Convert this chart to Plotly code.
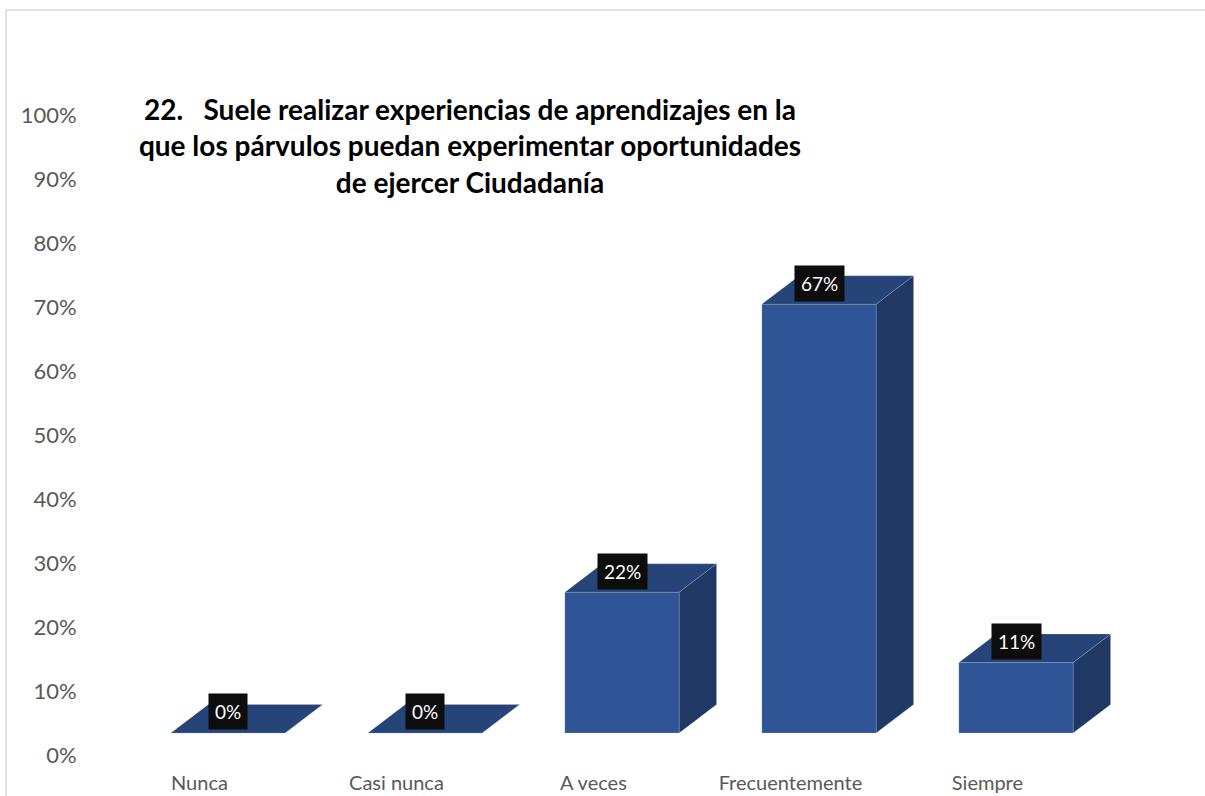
import plotly.graph_objects as go

# data
categories = ["Nunca", "Casi nunca", "A veces", "Frecuentemente", "Siempre"]
values = [0, 0, 22, 67, 11]
labels = ["0%", "0%", "22%", "67%", "11%"]
y_ticks = list(range(0, 101, 10))
y_ticktext = [f"{t}%" for t in y_ticks]

title_lines = [
    "22.\u00a0\u00a0 Suele realizar experiencias de aprendizajes en la",
    "que los párvulos puedan experimentar oportunidades",
    "de ejercer Ciudadanía",
]

# fake 3D geometry (data units)
BASE = 3.44      # front-face floor sits a bit above the 0% tick
HALF_W = 0.29    # half bar width
DX = 0.19        # depth offset in x
DY = 4.45        # depth offset in y
LABEL_DY = 3.3   # data label centre relative to front top

FRONT = "#2F5597"
TOP = "#264478"
SIDE = "#1F3864"


def faces(i, v):
    x0, x1 = i - HALF_W, i + HALF_W
    y0, y1 = BASE, BASE + v
    front = ([x0, x1, x1, x0, x0], [y0, y0, y1, y1, y0])
    top = ([x0, x1, x1 + DX, x0 + DX, x0], [y1, y1, y1 + DY, y1 + DY, y1])
    side = ([x1, x1 + DX, x1 + DX, x1, x1], [y0, y0 + DY, y1 + DY, y1, y0])
    return front, top, side


fig = go.Figure()

polys = {"side": ([], []), "front": ([], []), "top": ([], [])}
for i, v in enumerate(values):
    f, t, s = faces(i, v)
    for key, (xs, ys) in zip(["front", "top", "side"], [f, t, s]):
        polys[key][0].extend(xs + [None])
        polys[key][1].extend(ys + [None])

for key, col in [("side", SIDE), ("front", FRONT), ("top", TOP)]:
    fig.add_trace(go.Scatter(
        x=polys[key][0], y=polys[key][1],
        mode="lines", fill="toself", fillcolor=col,
        line=dict(width=0.6, color="rgba(200,210,230,0.35)"),
        hoverinfo="skip", showlegend=False,
    ))

# data labels
for i, (v, lab) in enumerate(zip(values, labels)):
    fig.add_annotation(
        x=i, y=BASE + v + LABEL_DY, xref="x", yref="y",
        text=lab, showarrow=False,
        font=dict(family="Lato", size=19, color="white"),
        bgcolor="#0d0d0d", borderpad=6,
    )

L, R, T, B = 86, 20, 115, 41
W, H = 1205, 796
cx0, step = 228, 197  # pixel of first bar centre and category spacing
bx = (6 - L) / (W - L - R)
by = (H - 10 - B) / (H - T - B)

fig.update_layout(
    width=W, height=H,
    margin=dict(l=L, r=R, t=T, b=B, autoexpand=False),
    paper_bgcolor="white", plot_bgcolor="white",
    title=dict(
        text="<br>".join(title_lines),
        x=470 / W, xanchor="center", xref="container",
        y=1 - 120 / H, yanchor="top", yref="container",
        font=dict(family="Lato", size=28, color="black", weight="bold"),
    ),
    xaxis=dict(
        range=[(L - cx0) / step, (W - R - cx0) / step],
        tickvals=[i - 0.145 for i in range(len(categories))],
        ticktext=categories,
        ticks="outside", ticklen=10, tickcolor="rgba(0,0,0,0)",
        tickfont=dict(family="Lato", size=20, color="#595959"),
        showgrid=False, zeroline=False, showline=False, automargin=False,
    ),
    yaxis=dict(
        range=[0, 100],
        tickvals=y_ticks, ticktext=y_ticktext,
        ticks="outside", ticklen=4, tickcolor="rgba(0,0,0,0)",
        tickfont=dict(family="Lato", size=22, color="#595959"),
        showgrid=False, zeroline=False, showline=False, automargin=False,
    ),
    shapes=[
        dict(type="line", xref="paper", yref="paper",
             x0=bx, x1=1.05, y0=by, y1=by,
             line=dict(color="#d9d9d9", width=1.5)),
        dict(type="line", xref="paper", yref="paper",
             x0=bx, x1=bx, y0=-0.1, y1=by,
             line=dict(color="#d9d9d9", width=1.5)),
    ],
)

fig.write_html(
    "out.html",
    config={"displayModeBar": False},
    post_script="document.body.style.margin='0';document.body.style.overflow='hidden';",
)
